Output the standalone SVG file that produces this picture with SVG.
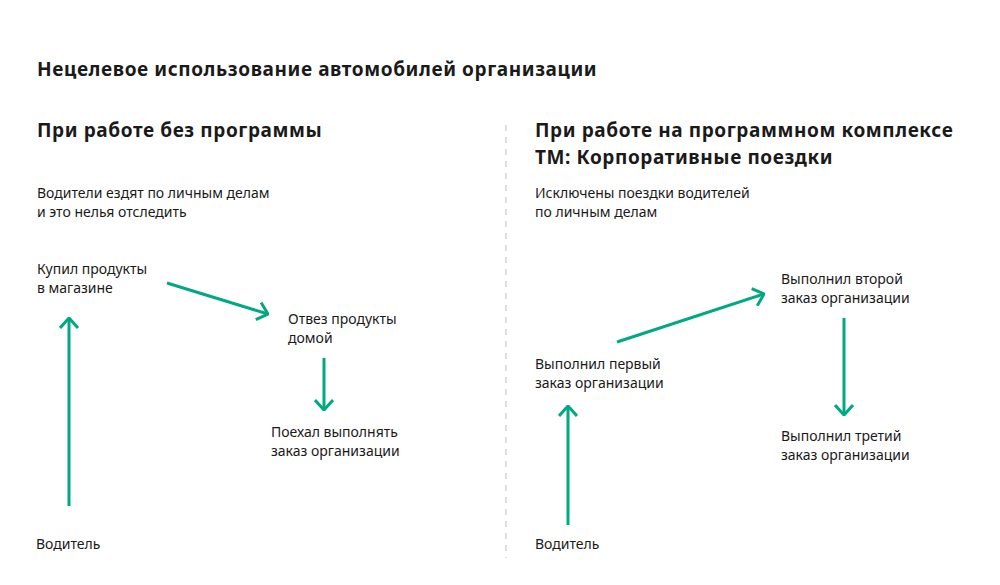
<svg xmlns="http://www.w3.org/2000/svg" width="1000" height="585" viewBox="0 0 1000 585">
<style>
text{font-family:"Noto Sans","Liberation Sans",sans-serif;fill:#1a1a1a}
.t{font-size:19px;font-weight:bold;letter-spacing:0.6px}
.b{font-size:14px}
.a{stroke:#00a984;stroke-width:3;fill:none}
</style>
<defs><marker id="h" viewBox="0 0 12 20" refX="11" refY="10" markerWidth="12" markerHeight="20" markerUnits="userSpaceOnUse" orient="auto"><path d="M1 1 L11 10 L1 19" fill="none" stroke="#00a984" stroke-width="3"/></marker></defs>
<rect width="1000" height="585" fill="#fff"/>
<text class="t" x="37" y="76">Нецелевое использование автомобилей организации</text>
<text class="t" x="37" y="137">При работе без программы</text>
<text class="t" x="535" y="137">При работе на программном комплексе</text>
<text class="t" x="535" y="164">ТМ: Корпоративные поездки</text>
<text class="b" x="37" y="198">Водители ездят по личным делам</text>
<text class="b" x="37" y="217">и это нелья отследить</text>
<text class="b" x="535" y="198">Исключены поездки водителей</text>
<text class="b" x="535" y="217">по личным делам</text>
<line x1="506" y1="125" x2="506" y2="558" stroke="#bbb" stroke-width="1" stroke-dasharray="6,6"/>
<g id="n1"><text class="b" x="37" y="274">Купил продукты</text><text class="b" x="37" y="293">в магазине</text></g>
<g id="n2"><text class="b" x="288" y="324">Отвез продукты</text><text class="b" x="288" y="343">домой</text></g>
<g id="n3"><text class="b" x="271" y="437">Поехал выполнять</text><text class="b" x="271" y="456">заказ организации</text></g>
<g id="n4"><text class="b" x="36" y="549">Водитель</text></g>
<g id="n5"><text class="b" x="535" y="369">Выполнил первый</text><text class="b" x="535" y="388">заказ организации</text></g>
<g id="n6"><text class="b" x="781" y="284">Выполнил второй</text><text class="b" x="781" y="303">заказ организации</text></g>
<g id="n7"><text class="b" x="781" y="441">Выполнил третий</text><text class="b" x="781" y="460">заказ организации</text></g>
<g id="n8"><text class="b" x="535" y="549">Водитель</text></g>
<g id="connectors">
<line class="a" x1="69" y1="506" x2="69" y2="318" marker-end="url(#h)"/>
<line class="a" x1="167" y1="283" x2="268" y2="314" marker-end="url(#h)"/>
<line class="a" x1="324" y1="358" x2="324" y2="410" marker-end="url(#h)"/>
<line class="a" x1="568" y1="525" x2="568" y2="406" marker-end="url(#h)"/>
<line class="a" x1="617" y1="342" x2="764" y2="294" marker-end="url(#h)"/>
<line class="a" x1="844" y1="318" x2="844" y2="415" marker-end="url(#h)"/>
</g>
</svg>
